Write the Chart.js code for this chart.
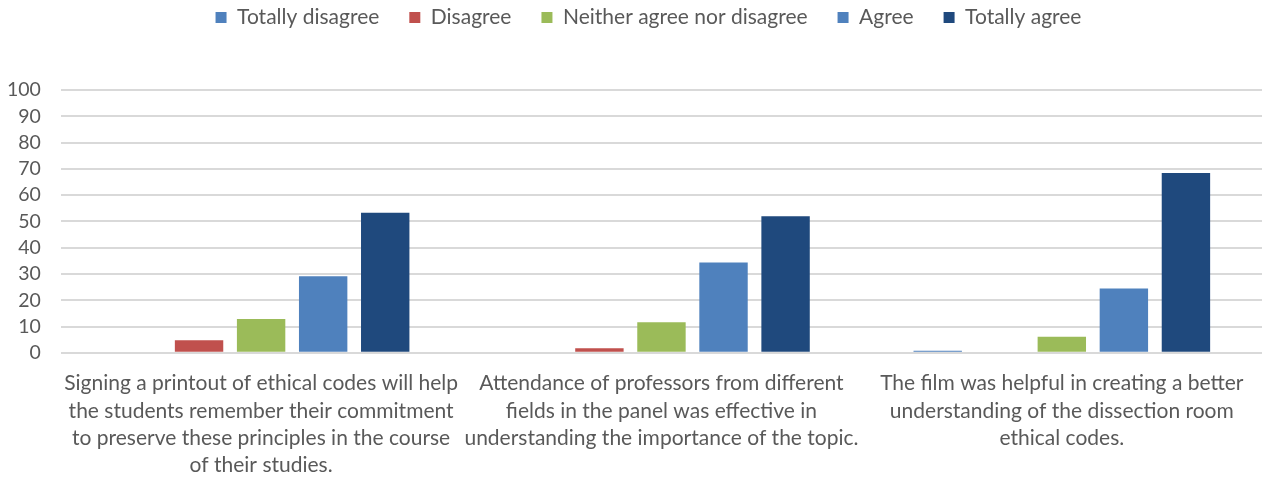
<!DOCTYPE html>
<html>
<head>
<meta charset="utf-8">
<script src="https://cdn.jsdelivr.net/npm/chart.js@4/dist/chart.umd.min.js"></script>
<style>
html,body{margin:0;padding:0;background:#fff;}
#wrap{width:1264px;height:477px;}
</style>
</head>
<body>
<div id="wrap"><canvas id="c" width="1264" height="477"></canvas></div>
<script>
const categories = [
  ["Signing a printout of ethical codes will help","the students remember their commitment","to preserve these principles in the course","of their studies."],
  ["Attendance of professors from different","fields in the panel was effective in","understanding the importance of the topic."],
  ["The film was helpful in creating a better","understanding of the dissection room","ethical codes."]
];
const seriesNames = ["Totally disagree","Disagree","Neither agree nor disagree","Agree","Totally agree"];
const totallyDisagree = [0, 0, 0.8];
const disagree = [4.8, 1.7, 0];
const neither = [12.9, 11.6, 6.1];
const agree = [29.1, 34.4, 24.5];
const totallyAgree = [53.3, 52.0, 68.4];
const yTicks = [0,10,20,30,40,50,60,70,80,90,100];
const colors = ["#4f81bd","#c0504d","#9bbb59","#4f81bd","#1f497d"];

const FONT = "Lato";
const values = [totallyDisagree, disagree, neither, agree, totallyAgree];

const legendSpace = {
  id: 'legendSpace',
  beforeInit(chart) {
    const orig = chart.legend.fit;
    chart.legend.fit = function () {
      orig.bind(chart.legend)();
      this.height += 52;
    };
  },
  afterLayout(chart) {
    chart.legend.left += 24;
    chart.legend.right += 24;
  }
};

new Chart(document.getElementById('c'), {
  type: 'bar',
  data: {
    labels: categories,
    datasets: seriesNames.map((n, i) => ({
      label: n,
      data: values[i],
      backgroundColor: colors[i],
      borderWidth: 0,
      categoryPercentage: 0.775,
      barPercentage: 0.78
    }))
  },
  options: {
    responsive: false,
    animation: false,
    layout: { padding: { left: -13, right: 2, top: -23, bottom: -19 } },
    plugins: {
      legend: {
        position: 'top',
        labels: {
          boxWidth: 11, boxHeight: 11, padding: 30,
          color: '#595959',
          font: { family: FONT, size: 21 }
        }
      },
      tooltip: { enabled: false }
    },
    scales: {
      x: {
        grid: { display: false, drawTicks: false },
        border: { display: false },
        ticks: {
          color: '#595959',
          font: { family: FONT, size: 21, lineHeight: 1.3 },
          maxRotation: 0, autoSkip: false, padding: 17
        }
      },
      y: {
        min: 0, max: 100,
        afterBuildTicks(axis) { axis.ticks = yTicks.map(v => ({ value: v })); },
        grid: { color: '#d9d9d9', lineWidth: 2, drawTicks: false },
        border: { display: false },
        ticks: {
          color: '#595959',
          font: { family: FONT, size: 19.5 },
          padding: 20, autoSkip: false
        }
      }
    }
  },
  plugins: [legendSpace]
});
</script>
</body>
</html>
